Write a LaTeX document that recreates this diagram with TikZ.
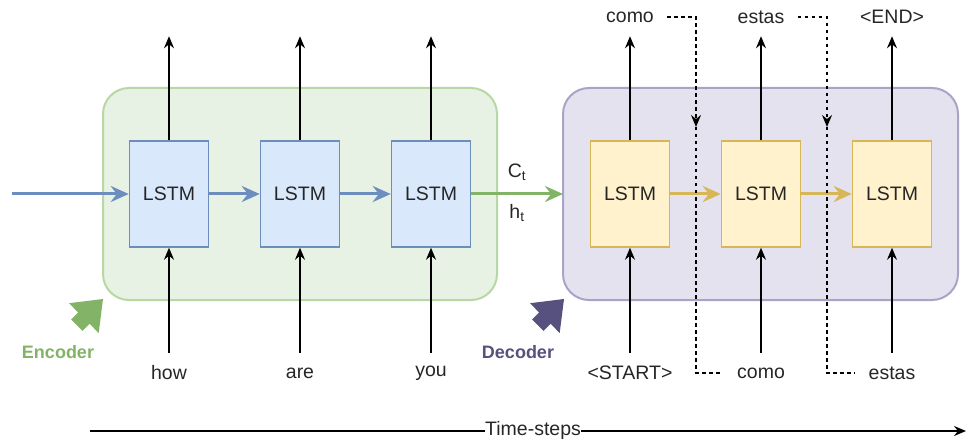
\documentclass[tikz,border=0pt]{standalone}
\usepackage{fontspec}
\setmainfont{Liberation Sans}
\usetikzlibrary{arrows.meta}

\definecolor{encfill}{HTML}{E8F2E4}
\definecolor{encline}{HTML}{B7D8A5}
\definecolor{decfill}{HTML}{E5E2F0}
\definecolor{decline}{HTML}{A9A3C7}
\definecolor{bluefill}{HTML}{DAE8FC}
\definecolor{blueline}{HTML}{6C8EBF}
\definecolor{yelfill}{HTML}{FFF2CC}
\definecolor{yelline}{HTML}{D6B656}
\definecolor{encgreen}{HTML}{82B366}
\definecolor{decpurple}{HTML}{56517E}
\definecolor{ink}{HTML}{262626}

\tikzset{
  txt/.style={font=\fontsize{19.5}{22}\selectfont, text=ink, inner sep=1pt},
  container/.style={rounded corners=26pt, line width=2pt},
  lstm/.style={minimum width=79pt, minimum height=106pt, inner sep=0pt,
    line width=1.5pt, font=\fontsize{19.5}{22}\selectfont, text=ink},
  enclstm/.style={lstm, fill=bluefill, draw=blueline},
  declstm/.style={lstm, fill=yelfill, draw=yelline},
  blk/.style={line width=1.5pt, draw=black,
    -{Stealth[length=12pt,width=10pt,inset=4pt]}},
  flow/.style={line width=3pt,
    -{Stealth[length=18pt,width=16pt,inset=6pt]}},
  feed/.style={line width=1.4pt, dash pattern=on 3.5pt off 3.5pt},
  label/.style={font=\bfseries\fontsize{18}{21}\selectfont, inner sep=0pt},
  bigarrow/.pic={
    \fill (0,0) -- (-4.3,34) -- (-13.4,24.8) -- (-20.5,31.9)
      -- (-31.8,20.5) -- (-24.8,13.5) -- (-34,4.2) -- cycle;
  }
}

\begin{document}
\begin{tikzpicture}[x=1pt, y=-1pt]
\useasboundingbox (0,0) rectangle (967,441);

% containers
\draw[container, fill=encfill, draw=encline] (103,88) rectangle (497,300);
\draw[container, fill=decfill, draw=decline] (563,88) rectangle (958,300);

% LSTM cells
\node[enclstm] (e1) at (169,194) {LSTM};
\node[enclstm] (e2) at (300,194) {LSTM};
\node[enclstm] (e3) at (431,194) {LSTM};
\node[declstm] (d1) at (630,194) {LSTM};
\node[declstm] (d2) at (761,194) {LSTM};
\node[declstm] (d3) at (892,194) {LSTM};

% input words
\node[txt] (ihow) at (169,373) {how};
\node[txt] (iare) at (300,373) {are};
\node[txt] (iyou) at (431,373) {you};
\node[txt] (istart) at (630,373) {<START>};
\node[txt] (icomo) at (761,373) {como};
\node[txt] (iestas) at (892,373) {estas};

% output words
\node[txt] (ocomo) at (630,17) {como};
\node[txt] (oestas) at (761,17) {estas};
\node[txt] (oend) at (892,17) {<END>};

% vertical arrows
\foreach \c in {e1,e2,e3,d1,d2,d3}{
  \coordinate (\c top) at ([yshift=104pt]\c.north);
  \coordinate (\c bot) at ([yshift=-105pt]\c.south);
  \draw[blk] (\c.north) -- (\c top);
  \draw[blk] (\c bot) -- (\c.south);
}

% recurrent connections
\coordinate (src) at (12,194);
\draw[flow, blueline] (src) -- (e1.west);
\draw[flow, blueline] (e1) -- (e2);
\draw[flow, blueline] (e2) -- (e3);
\draw[flow, encgreen] (e3.east) -- (563,194) coordinate (dst);
\node[txt] (ct) at (517,172) {C\textsubscript{t}};
\node[txt] (ht) at (517,213) {h\textsubscript{t}};
\draw[flow, yelline] (d1) -- (d2);
\draw[flow, yelline] (d2) -- (d3);

% feeding each output back as the next input
\coordinate (f1) at (696,127);
\coordinate (f2) at (827,127);
\draw[feed, -{Stealth[length=12pt,width=10pt,inset=4pt]}]
  ([xshift=12pt]ocomo.east) -| (f1);
\draw[feed] (f1) |- ([xshift=-13pt]icomo.west);
\draw[feed, -{Stealth[length=12pt,width=10pt,inset=4pt]}]
  ([xshift=12pt]oestas.east) -| (f2);
\draw[feed] (f2) |- ([xshift=-13pt]iestas.west);

% encoder / decoder labels
\pic[encgreen] at (103,299) {bigarrow};
\node[label, text=encgreen] (enc) at (58,352) {Encoder};
\pic[decpurple] at (564,299) {bigarrow};
\node[label, text=decpurple] (dec) at (518,352) {Decoder};

% time axis
\node[txt, inner sep=0pt] (ts) at (533,430) {Time-steps};
\coordinate (t0) at (90,431);
\coordinate (t1) at (966,431);
\draw[line width=1.5pt] (t0) -- (t0 -| ts.west);
\draw[blk] (t1 -| ts.east) -- (t1);
\end{tikzpicture}
\end{document}
